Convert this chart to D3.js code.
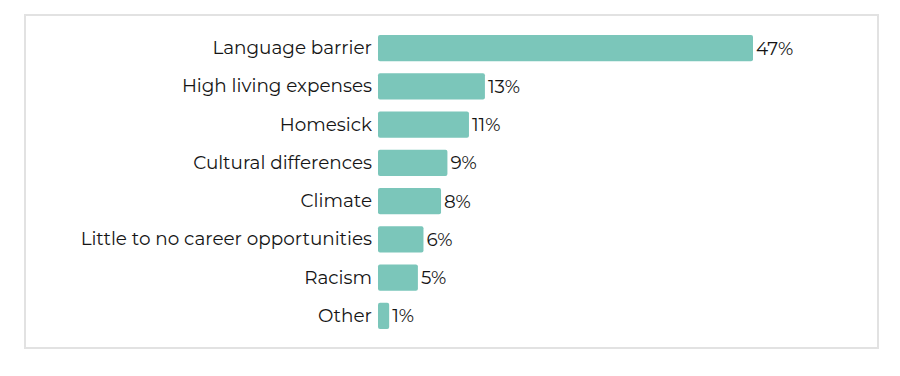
<!DOCTYPE html>
<html><head><meta charset="utf-8">
<script src="https://cdn.jsdelivr.net/npm/d3@7"></script>
<style>
html,body{margin:0;padding:0;background:#fff;}
svg{display:block;}
</style></head>
<body>
<svg id="chart" width="900" height="376"></svg>
<script>
const categories = ["Language barrier","High living expenses","Homesick","Cultural differences","Climate","Little to no career opportunities","Racism","Other"];
const values = [47, 13.4, 11.4, 8.7, 7.9, 5.7, 5.0, 1.4];
const valueLabels = ["47%","13%","11%","9%","8%","6%","5%","1%"];

const svg = d3.select("#chart");
const fontFam = "Montserrat, 'Open Sans', sans-serif";

svg.append("rect").attr("x",25).attr("y",15).attr("width",853).attr("height",333)
  .attr("fill","#fff").attr("stroke","#e2e2e2").attr("stroke-width",2);

const x = d3.scaleLinear().domain([0,47]).range([378,753]);
const y = d3.scaleBand().domain(categories).range([29,335]).paddingInner(0.32).paddingOuter(0.16);

const data = categories.map((c,i)=>({c, v:values[i], l:valueLabels[i]}));

svg.append("g").selectAll("rect").data(data).join("rect")
  .attr("x", x(0)).attr("y", d=>y(d.c))
  .attr("width", d=>x(d.v)-x(0)).attr("height", y.bandwidth())
  .attr("rx",2).attr("fill","#7bc6ba");

const yAxis = d3.axisLeft(y).tickSize(0).tickPadding(6);
const ga = svg.append("g").attr("transform",`translate(${x(0)},0)`).call(yAxis);
ga.select(".domain").remove();
ga.selectAll("text").attr("font-family",fontFam).attr("font-size",18.4).attr("font-weight",400).attr("fill","#151515");

svg.append("g").selectAll("text").data(data).join("text")
  .attr("x", d=>x(d.v)+3).attr("y", d=>y(d.c)+y.bandwidth()/2)
  .attr("dy","0.36em")
  .attr("font-family",fontFam).attr("font-size",18.4).attr("font-weight",400).attr("fill","#151515")
  .text(d=>d.l);
</script>
</body></html>
